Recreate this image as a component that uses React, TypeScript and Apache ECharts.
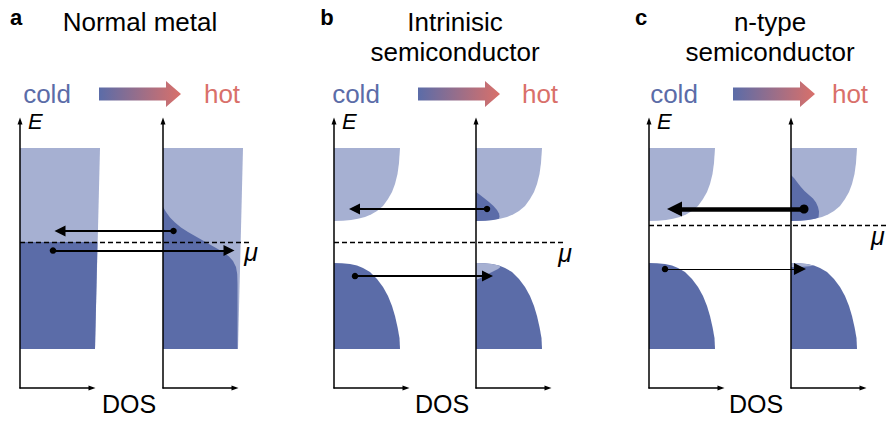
import React, { useEffect, useRef } from "react";
import * as echarts from "echarts";

// ---- axis ranges (E in arbitrary units, mu of a/b at 0; DOS in arbitrary units)
const E_MIN = -14.6;
const E_MAX = 12.1;
const DOS_MAX = 7.2;

// ---- panel texts
const panelLetters = ["a", "b", "c"];
const panelTitles = [["Normal metal"], ["Intrinisic", "semiconductor"], ["n-type", "semiconductor"]];
const coldLabel = "cold";
const hotLabel = "hot";
const energyLabel = "E";
const muLabel = "μ";
const dosLabel = "DOS";

// ---- chemical potential per panel
const muLevels = [0, 0, 1.7];

// ---- (a) normal metal: DOS blocks [DOS, E]
const metalBand = [[0, 9.4], [8.0, 9.4], [7.5, -10.7], [0, -10.7]];
const metalColdOccupied = [[0, 0], [7.75, 0], [7.5, -10.7], [0, -10.7]];
const metalHotOccupied = [
  [0, 3.5], [0.3, 3.0], [0.7, 2.45], [1.2, 1.95], [1.8, 1.45], [2.5, 1.0], [3.2, 0.6],
  [3.9, 0.2], [4.6, -0.2], [5.3, -0.6], [6.0, -1.0], [6.6, -1.45], [7.0, -1.9],
  [7.3, -2.5], [7.42, -3.2], [7.45, -4.2], [7.45, -10.7], [0, -10.7],
];

// ---- semiconductor bands [DOS, E]
const conductionBand = [
  [0, 2.1], [0.9, 2.12], [1.7, 2.2], [2.4, 2.33], [3.1, 2.5], [3.7, 2.75], [4.3, 3.1],
  [4.9, 3.6], [5.4, 4.3], [5.8, 5.0], [6.1, 5.8], [6.35, 6.8], [6.5, 7.9], [6.6, 9.4], [0, 9.4],
];
const valenceBand = [
  [0, -2.1], [0.8, -2.12], [1.6, -2.2], [2.3, -2.35], [2.9, -2.6], [3.6, -3.0], [4.3, -3.7],
  [4.9, -4.5], [5.4, -5.4], [5.8, -6.4], [6.1, -7.4], [6.35, -8.5], [6.55, -9.6], [6.6, -10.7], [0, -10.7],
];
const intrinsicHotElectrons = [
  [0, 5.0], [0.35, 4.75], [0.8, 4.4], [1.3, 4.0], [1.75, 3.6], [2.1, 3.2], [2.3, 2.85],
  [2.35, 2.55], [2.3, 2.32], [1.7, 2.2], [0.9, 2.12], [0, 2.1],
];
const intrinsicHotHoles = [
  [0, -3.8], [0.35, -3.65], [0.8, -3.4], [1.3, -3.15], [1.8, -2.9], [2.2, -2.7], [2.45, -2.5],
  [2.3, -2.35], [1.6, -2.2], [0.8, -2.12], [0, -2.1],
];
const nTypeHotElectrons = [
  [0, 6.7], [0.3, 6.4], [0.6, 6.0], [0.95, 5.55], [1.35, 5.1], [1.8, 4.7], [2.2, 4.35],
  [2.5, 3.95], [2.7, 3.5], [2.8, 3.05], [2.78, 2.7], [2.75, 2.45], [2.4, 2.33], [1.7, 2.2],
  [0.9, 2.12], [0, 2.1],
];
const nTypeHotHoles = [
  [0, -2.5], [0.6, -2.52], [1.2, -2.48], [1.8, -2.42], [2.25, -2.38], [1.6, -2.2], [0.8, -2.12], [0, -2.1],
];

// ---- carrier transfer arrows (cold-side coordinates): from dot to arrow tip, weight
const transfersA = [
  { from: [15.35, 1.1], to: [3.45, 1.1], kind: "normal" },
  { from: [3.3, -0.85], to: [21.45, -0.85], kind: "normal" },
];
const transfersB = [
  { from: [15.3, 3.3], to: [1.5, 3.3], kind: "normal" },
  { from: [2.1, -3.4], to: [15.9, -3.4], kind: "normal" },
];
const transfersC = [
  { from: [15.5, 3.3], to: [1.8, 3.3], kind: "thick" },
  { from: [1.6, -2.7], to: [15.7, -2.7], kind: "thin" },
];
const muLineEnds = [23.2, 23.2, 25];

// ---- styling / layout
const LIGHT = "#a6b0d2";
const DARK = "#5b6ca8";
const HOT = "#d9706a";
const FONT = '"Liberation Sans", Arial, Helvetica, sans-serif';
const gridLefts = [20, 163, 334, 476, 649, 791];
const GRID_TOP = 121;
const GRID_H = 267;
const GRID_W = 72;
const PX_PER_UNIT = GRID_W / DOS_MAX;
const arrowStyles: Record<string, { head: number; dot: number; width: number }> = {
  normal: { head: 11, dot: 6.5, width: 2 },
  thick: { head: 15, dot: 9, width: 4.5 },
  thin: { head: 12, dot: 6.5, width: 1.2 },
};

function polygonSeries(points: number[][], g: number, color: string) {
  return {
    type: "custom",
    coordinateSystem: "cartesian2d",
    xAxisIndex: g,
    yAxisIndex: g,
    clip: false,
    silent: true,
    z: 1,
    data: points,
    renderItem: (params: any, api: any) => {
      if (params.dataIndex !== 0) return null;
      const pts = points.map((p) => api.coord(p));
      return { type: "polygon", shape: { points: pts }, style: { fill: color } };
    },
  };
}

function arrowSeries(list: any[], g: number) {
  return list.map((a) => {
    const s = arrowStyles[a.kind];
    const dir = Math.sign(a.to[0] - a.from[0]);
    const end = [a.to[0] - (dir * s.head) / 2 / PX_PER_UNIT, a.to[1]];
    return {
      type: "lines",
      coordinateSystem: "cartesian2d",
      xAxisIndex: g,
      yAxisIndex: g,
      clip: false,
      silent: true,
      z: 6,
      symbol: ["circle", "triangle"],
      symbolSize: [s.dot, s.head],
      lineStyle: { color: "#000", width: s.width, opacity: 1, curveness: 0 },
      data: [{ coords: [a.from, end] }],
    };
  });
}

function muSeries(p: number) {
  return {
    type: "lines",
    coordinateSystem: "cartesian2d",
    xAxisIndex: p * 2,
    yAxisIndex: p * 2,
    clip: false,
    silent: true,
    z: 5,
    symbol: ["none", "none"],
    lineStyle: { color: "#000", width: 1.4, opacity: 1, type: [5, 3] },
    data: [{ coords: [[0, muLevels[p]], [muLineEnds[p], muLevels[p]]] }],
  };
}

function text(x: number, y: number, t: string, font: string, fill = "#000", align = "center") {
  return {
    type: "text",
    x,
    y,
    silent: true,
    style: { text: t, font, fill, align, textAlign: align, verticalAlign: "middle", textVerticalAlign: "middle" },
  };
}

function gradientArrow(x: number) {
  return {
    type: "polygon",
    x,
    y: 94,
    silent: true,
    shape: { points: [[0, -6.5], [67, -6.5], [67, -13], [82, 0], [67, 13], [67, 6.5], [0, 6.5]] },
    style: {
      fill: new echarts.graphic.LinearGradient(0, 0, 1, 0, [
        { offset: 0, color: DARK },
        { offset: 1, color: HOT },
      ]),
    },
  };
}

export default function App() {
  const ref = useRef<HTMLDivElement>(null);
  useEffect(() => {
    if (!ref.current) return;
    const chart = echarts.init(ref.current, undefined, { renderer: "svg" });
    const axisLine = (sym: number[]) => ({
      show: true,
      onZero: false,
      symbol: ["none", "triangle"],
      symbolSize: sym,
      lineStyle: { color: "#000", width: 1.5 },
    });
    const grid = gridLefts.map((l) => ({ left: l, top: GRID_TOP, width: GRID_W, height: GRID_H }));
    const xAxis = gridLefts.map((_, i) => ({
      type: "value",
      gridIndex: i,
      min: 0,
      max: DOS_MAX,
      z: 3,
      axisLine: axisLine([5, 7]),
      axisTick: { show: false },
      axisLabel: { show: false },
      splitLine: { show: false },
    }));
    const yAxis = gridLefts.map((_, i) => ({
      type: "value",
      gridIndex: i,
      min: E_MIN,
      max: E_MAX,
      z: 3,
      axisLine: axisLine([5, 7]),
      axisTick: { show: false },
      axisLabel: { show: false },
      splitLine: { show: false },
    }));

    const series: any[] = [
      polygonSeries(metalBand, 0, LIGHT),
      polygonSeries(metalColdOccupied, 0, DARK),
      polygonSeries(metalBand, 1, LIGHT),
      polygonSeries(metalHotOccupied, 1, DARK),
      polygonSeries(conductionBand, 2, LIGHT),
      polygonSeries(valenceBand, 2, DARK),
      polygonSeries(conductionBand, 3, LIGHT),
      polygonSeries(valenceBand, 3, DARK),
      polygonSeries(intrinsicHotElectrons, 3, DARK),
      polygonSeries(intrinsicHotHoles, 3, LIGHT),
      polygonSeries(conductionBand, 4, LIGHT),
      polygonSeries(valenceBand, 4, DARK),
      polygonSeries(conductionBand, 5, LIGHT),
      polygonSeries(valenceBand, 5, DARK),
      polygonSeries(nTypeHotElectrons, 5, DARK),
      polygonSeries(nTypeHotHoles, 5, LIGHT),
      muSeries(0),
      muSeries(1),
      muSeries(2),
      ...arrowSeries(transfersA, 0),
      ...arrowSeries(transfersB, 2),
      ...arrowSeries(transfersC, 4),
    ];

    const titleFont = `26px ${FONT}`;
    const letterFont = `bold 22px ${FONT}`;
    const titleCenters = [140, 455, 770];
    const letterX = [16, 327, 641];
    const coldX = [47, 356, 674];
    const hotX = [222, 540, 850];
    const arrowX = [99, 418, 733];
    const eX = [28, 342, 657];
    const muPos = [[251, 252, "center"], [565, 253, "center"], [871, 236, "left"]];
    const dosX = [129, 442, 756];

    const graphic: any[] = [];
    for (let p = 0; p < 3; p++) {
      graphic.push(text(letterX[p], 17, panelLetters[p], letterFont));
      panelTitles[p].forEach((t, i) => graphic.push(text(titleCenters[p], 22 + i * 30, t, titleFont)));
      graphic.push(text(coldX[p], 94, coldLabel, `26px ${FONT}`, DARK));
      graphic.push(text(hotX[p], 94, hotLabel, `26px ${FONT}`, HOT));
      graphic.push(gradientArrow(arrowX[p]));
      graphic.push(text(eX[p], 121, energyLabel, `italic 22px ${FONT}`, "#000", "left"));
      const m = muPos[p];
      graphic.push(text(m[0] as number, m[1] as number, muLabel, `italic 25px ${FONT}`, "#000", m[2] as string));
      graphic.push(text(dosX[p], 404, dosLabel, `25px ${FONT}`));
    }

    chart.setOption({
      animation: false,
      backgroundColor: "#fff",
      grid,
      xAxis,
      yAxis,
      series,
      graphic,
    });
    return () => chart.dispose();
  }, []);
  return (
    <div
      ref={ref}
      style={{ position: "fixed", left: 0, top: 0, width: 886, height: 421, background: "#fff" }}
    />
  );
}
